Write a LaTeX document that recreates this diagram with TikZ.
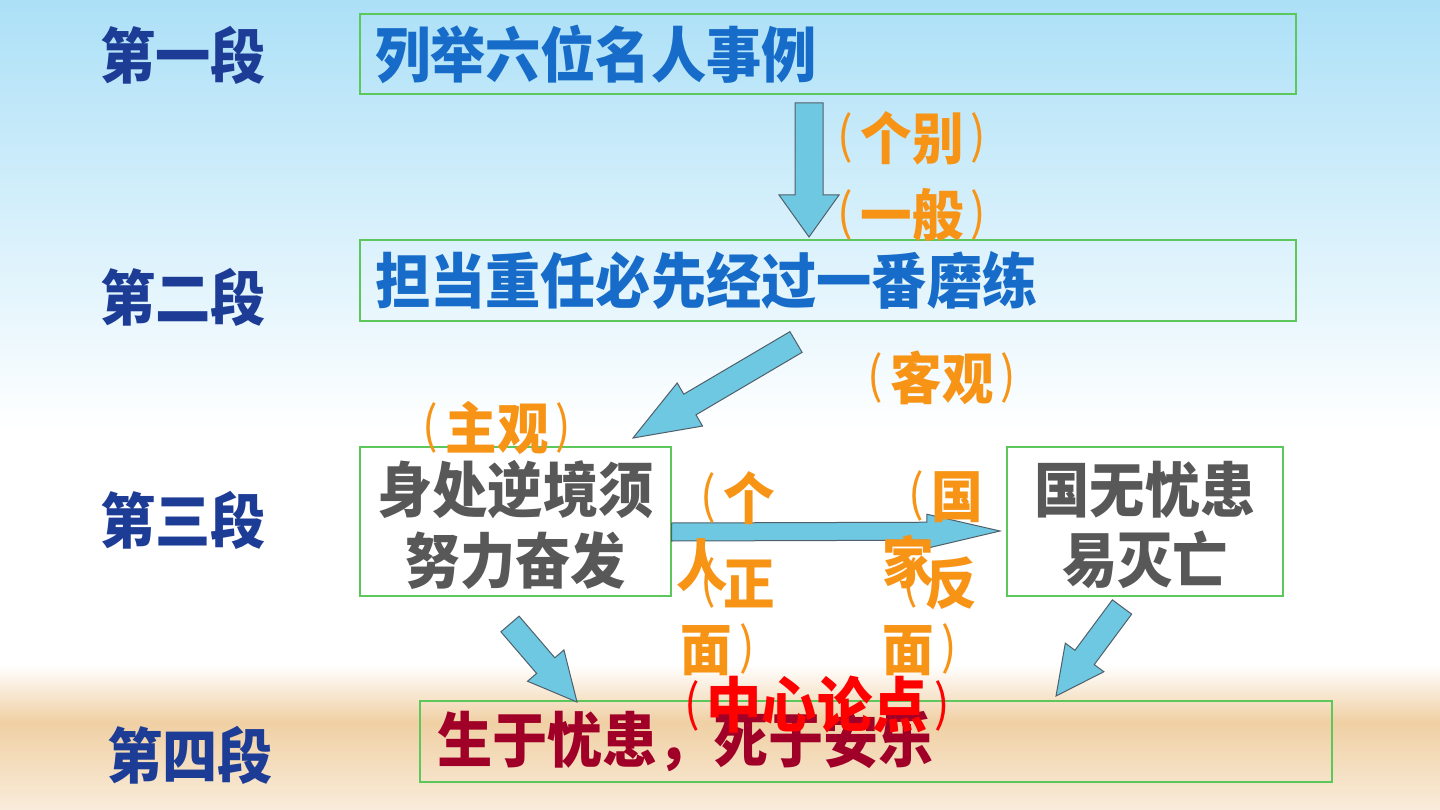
\documentclass[tikz,border=0pt]{standalone}
\usepackage{fontspec}
\setmainfont{Noto Sans CJK SC}[FakeStretch=0.92]
\usetikzlibrary{calc}

\definecolor{skyblue}{RGB}{172,224,247}
\definecolor{sand}{RGB}{240,208,164}
\definecolor{boxgreen}{RGB}{92,200,92}
\definecolor{titleblue}{RGB}{22,108,200}
\definecolor{duanblue}{RGB}{28,60,150}
\definecolor{textgray}{RGB}{88,88,88}
\definecolor{labelorange}{RGB}{247,148,22}
\definecolor{mainred}{RGB}{160,0,40}
\definecolor{arrowfill}{RGB}{110,200,226}
\definecolor{arrowedge}{RGB}{80,95,105}

% thin parentheses
\newcommand{\opar}{\raisebox{6pt}{\fontsize{50}{50}\selectfont\mdseries(}\hspace{7pt}}
\newcommand{\cpar}{\hspace{7pt}\raisebox{6pt}{\fontsize{50}{50}\selectfont\mdseries)}}

\tikzset{
  duan/.style={text=duanblue, font=\fontsize{60}{66}\selectfont\bfseries, inner sep=0pt},
  textbox/.style={draw=boxgreen, line width=1.2pt, inner xsep=15pt, inner ysep=0pt},
  bigtext/.style={font=\fontsize{60}{64}\selectfont\bfseries},
  orangelabel/.style={text=labelorange, font=\fontsize{56}{60}\selectfont\bfseries, inner sep=0pt},
  blockarrow/.style={fill=arrowfill, draw=arrowedge, line width=1pt, line join=miter}
}

% block arrow: from, to, half shaft, half head, head length
\newcommand{\fatarrow}[5]{%
  \coordinate (fa-c) at ($(#2)!#5!(#1)$);
  \draw[blockarrow] ($(#1)!#3!90:(#2)$) -- ($(fa-c)!#3!90:(#2)$) -- ($(fa-c)!#4!90:(#2)$)
    -- (#2) -- ($(fa-c)!#4!-90:(#2)$) -- ($(fa-c)!#3!-90:(#2)$) -- ($(#1)!#3!-90:(#2)$) -- cycle;
}

\begin{document}
\begin{tikzpicture}[x=1pt, y=-1pt]
        \useasboundingbox (0,0) rectangle (1440,810);

        % Background
        \fill[top color=skyblue, bottom color=white] (0,0) rectangle (1440,430);
        \fill[white] (0,430) rectangle (1440,665);
        \fill[top color=white, bottom color=sand] (0,665) rectangle (1440,722);
        \fill[top color=sand, bottom color=sand!40!white] (0,722) rectangle (1440,810);

        % Paragraph labels
        \node[duan] (duan1) at (183,55) {第一段};
        \node[duan] (duan2) at (183,297) {第二段};
        \node[duan] (duan3) at (183,520) {第三段};
        \node[duan] (duan4) at (190,755) {第四段};

        % Content boxes
        \node[textbox, bigtext, text=titleblue, text width=906pt, align=left, minimum height=80pt] (shili) at (828,54) {列举六位名人事例};
        \node[textbox, bigtext, text=titleblue, text width=906pt, align=left, minimum height=81pt] (molian) at (828,280.5) {担当重任必先经过一番磨练};
        \node[textbox, minimum width=311pt, minimum height=149pt] (nijing) at (515.5,521.5) {};
        \node[textbox, minimum width=276pt, minimum height=149pt] (miewang) at (1145,521.5) {};
        \node[textbox, bigtext, text=mainred, text width=878pt, inner xsep=17pt, align=left, minimum height=81pt] (lundian) at (876,741.5) {生于忧患，死于安乐};

        % Two-line texts
        \node[bigtext, text=textgray, inner sep=0pt] (nijingtext) at ($(nijing.center)+(0,10)$) {
            \begin{tabular}{c}
                身处逆境须 \\
                努力奋发
            \end{tabular}
        };
        \node[bigtext, text=textgray, inner sep=0pt] (miewangtext) at ($(miewang.center)+(0,10)$) {
            \begin{tabular}{c}
                国无忧患 \\
                易灭亡
            \end{tabular}
        };

        % Arrow ends
        \coordinate (a1s) at (809,103);
        \coordinate (a1e) at (809,237);
        \coordinate (a2s) at (796,342);
        \coordinate (a2e) at (633,438);
        \coordinate (a3s) at (nijing.east |- 0,532);
        \coordinate (a3e) at (1000,531);
        \coordinate (a4s) at (510,624);
        \coordinate (a4e) at (577,702);
        \coordinate (a5s) at (1122,607);
        \coordinate (a5e) at (1056,696);

        % Arrows
        \fatarrow{a1s}{a1e}{14pt}{30pt}{42pt}
        \fatarrow{a2s}{a2e}{12pt}{25pt}{66pt}
        \fatarrow{a3s}{a3e}{9pt}{17pt}{73pt}
        \fatarrow{a4s}{a4e}{12pt}{24pt}{48pt}
        \fatarrow{a5s}{a5e}{12pt}{24pt}{48pt}

        % Orange labels
        \node[orangelabel] (gebie) at (912,138) {\opar 个别\cpar};
        \node[orangelabel] (yiban) at (912,215) {\opar 一般\cpar};
        \node[orangelabel] (keguan) at (942,378) {\opar 客观\cpar};
        \node[orangelabel] (zhuguan) at (497,428) {\opar 主观\cpar};

        % Overlapping side labels
        \node[orangelabel] (ge) at (738,498) {\opar 个};
        \node[orangelabel] (ren) at (702,565) {人};
        \node[orangelabel] (zheng) at (738,583) {\opar 正};
        \node[orangelabel] (zmian) at (718,650) {面\cpar};
        \node[orangelabel] (guo) at (946,497) {\opar 国};
        \node[orangelabel] (jia) at (908,562) {家};
        \node[orangelabel] (fan) at (940,583) {\opar 反};
        \node[orangelabel] (fmian) at (920,650) {面\cpar};

        % Central thesis
        \node[text=red, font=\fontsize{60}{66}\selectfont\bfseries, inner sep=0pt] (zhongxin) at (817,705) {\opar 中心论点\cpar};
    \end{tikzpicture}
\end{document}
